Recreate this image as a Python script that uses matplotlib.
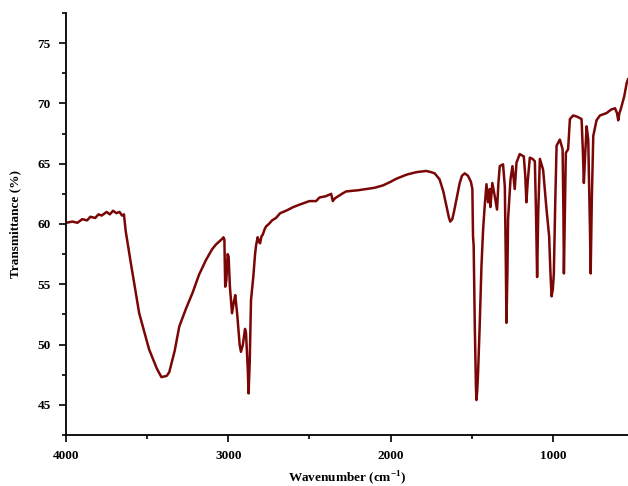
import numpy as np
import matplotlib
matplotlib.use('Agg')
from matplotlib import pyplot as plt
from matplotlib.ticker import MultipleLocator

# FTIR spectrum
wavenumber = [4000, 3960, 3930, 3900, 3870, 3850, 3820, 3800, 3780, 3750, 3730, 3710, 3690, 3670,
              3655, 3643, 3632, 3601, 3549, 3488, 3440, 3412, 3380, 3364, 3330, 3302, 3260, 3220,
              3180, 3138, 3100, 3076, 3035, 3030, 3024, 3019, 3012, 3004, 2998, 2990, 2977, 2965,
              2957, 2945, 2930, 2922, 2910, 2897, 2891, 2880, 2875, 2868, 2860, 2846, 2835, 2829,
              2819, 2810, 2804, 2795, 2788, 2775, 2767, 2750, 2730, 2706, 2680, 2644, 2600, 2562,
              2500, 2459, 2438, 2400, 2366, 2356, 2345, 2335, 2300, 2274, 2200, 2150, 2100, 2047,
              2000, 1965, 1900, 1841, 1780, 1750, 1728, 1698, 1675, 1656, 1640, 1632, 1620, 1611,
              1590, 1574, 1560, 1543, 1523, 1505, 1496, 1492, 1488, 1481, 1474, 1471, 1466, 1461,
              1451, 1440, 1430, 1420, 1409, 1399, 1389, 1385, 1373, 1358, 1344, 1335, 1327, 1307,
              1296, 1290, 1286, 1280, 1276, 1261, 1249, 1235, 1224, 1204, 1179, 1170, 1163, 1155,
              1142, 1125, 1111, 1104, 1097, 1090, 1080, 1060, 1039, 1023, 1015, 1008, 1000, 994,
              985, 977, 957, 940, 935, 932, 926, 920, 906, 895, 875, 850, 823, 815, 809, 800, 792,
              782, 772, 767, 760, 751, 731, 710, 669, 640, 617, 605, 597, 590, 582, 560, 545, 537]
transmittance = [60.1, 60.2, 60.1, 60.4, 60.3, 60.6, 60.5, 60.8, 60.7, 61.0, 60.8, 61.1, 60.9, 61.0,
                 60.7, 60.8, 59.4, 56.8, 52.6, 49.6, 48.0, 47.3, 47.4, 47.7, 49.5, 51.5, 53.0, 54.3,
                 55.8, 57.0, 57.9, 58.3, 58.8, 58.9, 58.7, 54.8, 55.3, 57.5, 57.3, 54.8, 52.6, 53.6,
                 54.1, 52.5, 50.0, 49.4, 50.0, 51.3, 51.0, 48.0, 45.95, 48.5, 53.7, 55.6, 57.5, 58.2,
                 58.9, 58.5, 58.4, 59.0, 59.1, 59.6, 59.8, 60.0, 60.3, 60.5, 60.9, 61.1, 61.4, 61.6,
                 61.9, 61.9, 62.2, 62.3, 62.5, 61.9, 62.1, 62.2, 62.5, 62.7, 62.8, 62.9, 63.0, 63.2,
                 63.5, 63.75, 64.1, 64.3, 64.4, 64.3, 64.2, 63.7, 62.7, 61.5, 60.5, 60.2, 60.4, 60.9,
                 62.3, 63.4, 64.0, 64.2, 64.0, 63.5, 62.9, 59.0, 58.2, 51.5, 46.5, 45.4, 46.2, 47.6,
                 51.5, 56.5, 59.5, 61.5, 63.3, 61.8, 62.9, 61.4, 63.4, 62.3, 61.2, 63.5, 64.8, 64.95,
                 63.1, 57.0, 51.8, 56.0, 60.4, 63.7, 64.8, 62.9, 65.1, 65.8, 65.6, 64.0, 61.8, 63.5,
                 65.5, 65.4, 65.2, 61.0, 55.6, 61.0, 65.4, 64.5, 61.2, 59.0, 56.0, 54.0, 54.6, 55.9,
                 62.0, 66.5, 67.0, 66.2, 61.0, 55.9, 61.0, 65.9, 66.2, 68.7, 69.0, 68.9, 68.7, 66.0,
                 63.4, 66.0, 68.1, 67.0, 60.0, 55.9, 62.0, 67.3, 68.6, 69.0, 69.2, 69.5, 69.6, 69.2,
                 68.6, 69.2, 69.5, 70.6, 71.7, 72.0]
x_major = [4000, 3000, 2000, 1000]
y_major = [45, 50, 55, 60, 65, 70, 75]

plt.rcParams['font.family'] = ['Liberation Serif', 'DejaVu Serif']
plt.rcParams['font.weight'] = 'bold'

fig = plt.figure(figsize=(6.28, 4.86), dpi=100)
ax = fig.add_axes([66 / 628, 51 / 486, 562 / 628, 422 / 486])
ax.plot(wavenumber, transmittance, color='#7a0606', lw=1.8)

ax.set_xlim(4000, 537)
ax.set_ylim(42.5, 77.5)
ax.set_xticks(x_major)
ax.set_yticks(y_major)
ax.xaxis.set_minor_locator(MultipleLocator(500))
ax.yaxis.set_minor_locator(MultipleLocator(2.5))
ax.tick_params(which='major', direction='out', length=5, width=1.2, labelsize=9.5, pad=6)
ax.tick_params(which='minor', direction='out', length=3, width=1.2)
for lab in ax.get_xticklabels() + ax.get_yticklabels():
    lab.set_fontweight('bold')

ax.spines['top'].set_visible(False)
ax.spines['right'].set_visible(False)
ax.spines['left'].set_linewidth(1.3)
ax.spines['bottom'].set_linewidth(1.3)

ax.set_xlabel('Wavenumber (cm$^{\\mathregular{-1}}$)', fontsize=9.5, fontweight='bold', labelpad=5)
ax.set_ylabel('Transmittance (%)', fontsize=9.5, fontweight='bold', labelpad=12)

plt.savefig('out.png', dpi=100)
